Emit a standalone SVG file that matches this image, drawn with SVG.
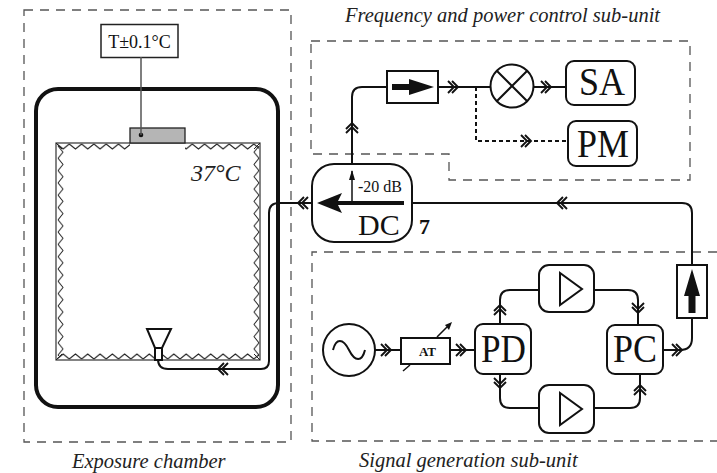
<svg xmlns="http://www.w3.org/2000/svg" xmlns:xlink="http://www.w3.org/1999/xlink" width="717" height="473" viewBox="0 0 717 473">
<style>
.sub{fill:none;stroke:#555;stroke-width:1.3;stroke-dasharray:9 7}
.box{fill:#fff;stroke:#111;stroke-width:2}
.ln{fill:none;stroke:#111;stroke-width:2}
.t{font-family:"Liberation Serif",serif;fill:#111}
.it{font-style:italic;font-size:20.500px;fill:#222}
.big{font-size:41px}
</style>
<defs>
<path id="chev" d="M-6-6L0 0L-6 6M-2-6L4 0L-2 6" fill="none" stroke="#111" stroke-width="1.9"/>
<pattern id="zh" width="12.3" height="7" patternUnits="userSpaceOnUse" x="57" y="143"><path d="M0 1L6.15 6L12.3 1" fill="none" stroke="#222"/></pattern>
<pattern id="zhb" width="12.3" height="7" patternUnits="userSpaceOnUse" x="57" y="353"><path d="M0 6L6.15 1L12.3 6" fill="none" stroke="#222"/></pattern>
<pattern id="zl" width="7" height="12.3" patternUnits="userSpaceOnUse" x="57" y="146"><path d="M1 0L6 6.15L1 12.3" fill="none" stroke="#222"/></pattern>
<pattern id="zr" width="7" height="12.3" patternUnits="userSpaceOnUse" x="253" y="146"><path d="M6 0L1 6.15L6 12.3" fill="none" stroke="#222"/></pattern>
</defs>
<rect width="717" height="473" fill="#fff"/>
<g id="subunits">
<path class="sub" d="M24 10H291V442H24Z"/>
<path class="sub" d="M311 41H690V180H449V154H311Z"/>
<path class="sub" d="M717 252H312V441H717"/>
</g>
<g id="chamber">
<rect x="36" y="89" width="242" height="318" rx="22" fill="none" stroke="#111" stroke-width="4"/>
<rect x="56" y="143" width="204" height="217" fill="none" stroke="#333" stroke-width="1.2"/>
<rect x="57" y="143" width="73" height="7" fill="url(#zh)"/>
<rect x="185" y="143" width="74" height="7" fill="url(#zh)"/>
<rect x="57" y="353" width="202" height="7" fill="url(#zhb)"/>
<rect x="57" y="146" width="7" height="210" fill="url(#zl)"/>
<rect x="253" y="146" width="7" height="210" fill="url(#zr)"/>
<path d="M56 143L62 149M260 143L254 149M56 360L62 354M260 360L254 354" stroke="#222" fill="none"/>
<text class="t it" x="191" y="181" style="font-size:24px">37°C</text>
</g>
<g id="sensor">
<rect x="130" y="128" width="55" height="15" fill="#b5b5b5" stroke="#222" stroke-width="1.3"/>
<circle cx="141" cy="135" r="2.3" fill="#111"/>
</g>
<g id="thermometer">
<rect x="101" y="24.500" width="77" height="33" fill="#fff" stroke="#222" stroke-width="1.5"/>
<text class="t" x="139.500" y="48" text-anchor="middle" font-size="18">T±0.1°C</text>
</g>
<g id="connectors">
<path d="M141 57V135" stroke="#555" stroke-width="1.5" fill="none"/>
<path class="ln" d="M312 203H279Q269 203 269 213V361Q269 369 261 369H168Q158 369 158 359V350"/>
<path class="ln" d="M412 203H682Q692 203 692 213V265"/>
<path class="ln" d="M692 318V338Q692 350 680 350H663"/>
<path class="ln" d="M352 164V97Q352 87 362 87H387M438 87H491M534 87H566"/>
<path d="M476 87V141H568" fill="none" stroke="#111" stroke-width="2" stroke-dasharray="4 3"/>
<path class="ln" d="M375 350H401M450 350H475"/>
<path class="ln" d="M500 324V300Q500 290 510 290H539M594 290H628Q638 290 638 300V325"/>
<path class="ln" d="M500 374V398Q500 408 510 408H539M594 408H630Q640 408 640 398V374"/>
<use xlink:href="#chev" href="#chev" transform="translate(302 203) rotate(180)"/>
<use xlink:href="#chev" href="#chev" transform="translate(561 203) rotate(180)"/>
<use xlink:href="#chev" href="#chev" transform="translate(222 369) rotate(180)"/>
<use xlink:href="#chev" href="#chev" transform="translate(352 127) rotate(-90)"/>
<use xlink:href="#chev" href="#chev" transform="translate(454 87)"/>
<use xlink:href="#chev" href="#chev" transform="translate(547 87)"/>
<use xlink:href="#chev" href="#chev" transform="translate(527 141)"/>
<use xlink:href="#chev" href="#chev" transform="translate(387 350)"/>
<use xlink:href="#chev" href="#chev" transform="translate(462 350)"/>
<use xlink:href="#chev" href="#chev" transform="translate(678 350)"/>
<use xlink:href="#chev" href="#chev" transform="translate(500 309) rotate(-90)"/>
<use xlink:href="#chev" href="#chev" transform="translate(638 309) rotate(90)"/>
<use xlink:href="#chev" href="#chev" transform="translate(500 384) rotate(90)"/>
<use xlink:href="#chev" href="#chev" transform="translate(640 389) rotate(-90)"/>
</g>
<g id="horn">
<path d="M147 329H171L162 348H155Z" fill="#fff" stroke="#111" stroke-width="2"/>
<rect x="155" y="348" width="7" height="12" fill="#fff" stroke="#111" stroke-width="2"/>
</g>
<g id="dc">
<rect class="box" x="312" y="164" width="100" height="78" rx="22"/>
<path d="M352 203V171" stroke="#111" stroke-width="1.5"/>
<path d="M352 170L349 180H355Z" fill="#111"/>
<path d="M404 203H330" stroke="#111" stroke-width="4"/>
<path d="M317 203L342 193L337 203L342 213Z" fill="#111"/>
<text class="t" x="358" y="192" font-size="16">-20 dB</text>
<text class="t" x="358" y="235" font-size="30">DC</text>
<text class="t" x="419" y="234" font-size="22" font-weight="bold">7</text>
</g>
<g id="isolator-top">
<rect class="box" x="387" y="71" width="51" height="32"/>
<path d="M392 87H412" stroke="#111" stroke-width="6"/>
<path d="M409 79L434 87L409 95Z" fill="#111"/>
</g>
<g id="mixer">
<circle cx="512" cy="86" r="21.500" class="box"/>
<path d="M497 71L527 101M527 71L497 101" stroke="#111" stroke-width="2"/>
</g>
<g id="sa">
<rect class="box" x="566" y="61" width="69" height="44" rx="8"/>
<text class="t big" x="579" y="95" textLength="46" lengthAdjust="spacingAndGlyphs">SA</text>
</g>
<g id="pm">
<rect class="box" x="568" y="121" width="69" height="45" rx="8"/>
<text class="t big" x="577" y="157" textLength="52" lengthAdjust="spacingAndGlyphs">PM</text>
</g>
<g id="isolator-right">
<rect class="box" x="677" y="265" width="30" height="53"/>
<path d="M692 269L700 296H695.500V313H688.500V296H684Z" fill="#111"/>
</g>
<g id="source">
<circle cx="349" cy="350" r="26" class="box"/>
<path d="M333 350C336 338 343 338 349 350C355 362 362 362 365 350" fill="none" stroke="#111" stroke-width="2"/>
</g>
<g id="at">
<rect class="box" x="401" y="338" width="49" height="26"/>
<text class="t" x="427.500" y="356" text-anchor="middle" font-size="13" font-weight="bold">AT</text>
<path d="M403 371L410 365M437 337L447 327" stroke="#111" stroke-width="1.5"/>
<path d="M452 322L445 325L449 330Z" fill="#111"/>
</g>
<g id="pd">
<rect class="box" x="475" y="324" width="56" height="50" rx="8"/>
<text class="t big" x="481" y="362" textLength="45" lengthAdjust="spacingAndGlyphs">PD</text>
</g>
<g id="pc">
<rect class="box" x="607" y="325" width="56" height="49" rx="8"/>
<text class="t big" x="613" y="362" textLength="44" lengthAdjust="spacingAndGlyphs">PC</text>
</g>
<g id="amp-top">
<rect class="box" x="539" y="265" width="55" height="47" rx="10"/>
<path d="M560 273V305L582 289Z" fill="none" stroke="#111" stroke-width="2"/>
</g>
<g id="amp-bottom">
<rect class="box" x="539" y="385" width="55" height="48" rx="10"/>
<path d="M560 393V425L582 409Z" fill="none" stroke="#111" stroke-width="2"/>
</g>
<g id="labels">
<text class="t it" x="345" y="22">Frequency and power control sub-unit</text>
<text class="t it" x="359" y="467">Signal generation sub-unit</text>
<text class="t it" x="72" y="468">Exposure chamber</text>
</g>
</svg>
